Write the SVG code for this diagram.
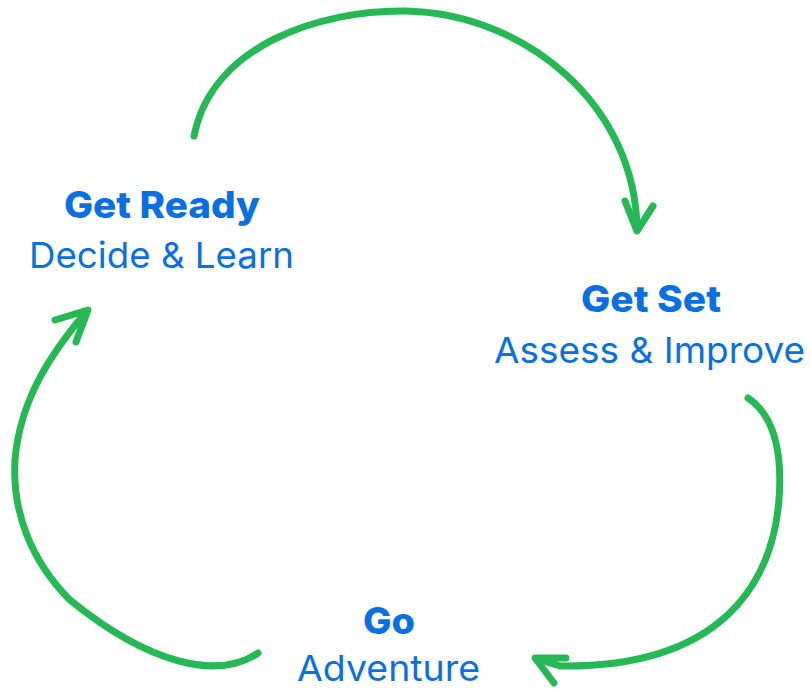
<svg xmlns="http://www.w3.org/2000/svg" width="811" height="690" viewBox="0 0 811 690">
<style>
.b{font-family:Inter,Lato,"Open Sans",sans-serif;font-weight:800;font-size:37px;fill:#0a6fe0}
.r{font-family:Inter,Lato,"Open Sans",sans-serif;font-weight:400;font-size:36px;fill:#0a6fe0}
.c{fill:none;stroke:#27b856;stroke-width:7;stroke-linecap:round;stroke-linejoin:round}
</style>
<rect width="811" height="690" fill="#fff"/>
<g id="connectors">
<path class="c" d="M194,136 C212,45 320,10 405,11 C525,13 636,105 637,230"/>
<path class="c" d="M625,201 L637,231 L653,206"/>
<path class="c" d="M748,398 C778,418 782,460 779,500 C772,585 720,668 560,666 L540,660"/>
<path class="c" d="M566,658 L535,658 L554,683"/>
<path class="c" d="M258,653 C218,680 150,665 70,600 C30,560 12,510 15,460 C20,400 50,355 85,313"/>
<path class="c" d="M55,320 L88,310 L76,342"/>
</g>
<g id="get-ready">
<text class="b" x="64" y="218" textLength="196" lengthAdjust="spacingAndGlyphs">Get Ready</text>
<text class="r" x="29" y="268" textLength="265" lengthAdjust="spacingAndGlyphs">Decide &amp; Learn</text>
</g>
<g id="get-set">
<text class="b" x="581" y="312" textLength="140" lengthAdjust="spacingAndGlyphs">Get Set</text>
<text class="r" x="494" y="363" textLength="311" lengthAdjust="spacingAndGlyphs">Assess &amp; Improve</text>
</g>
<g id="go">
<text class="b" x="363" y="634" textLength="52" lengthAdjust="spacingAndGlyphs">Go</text>
<text class="r" x="297" y="681" font-size="35" textLength="183" lengthAdjust="spacingAndGlyphs">Adventure</text>
</g>
</svg>
